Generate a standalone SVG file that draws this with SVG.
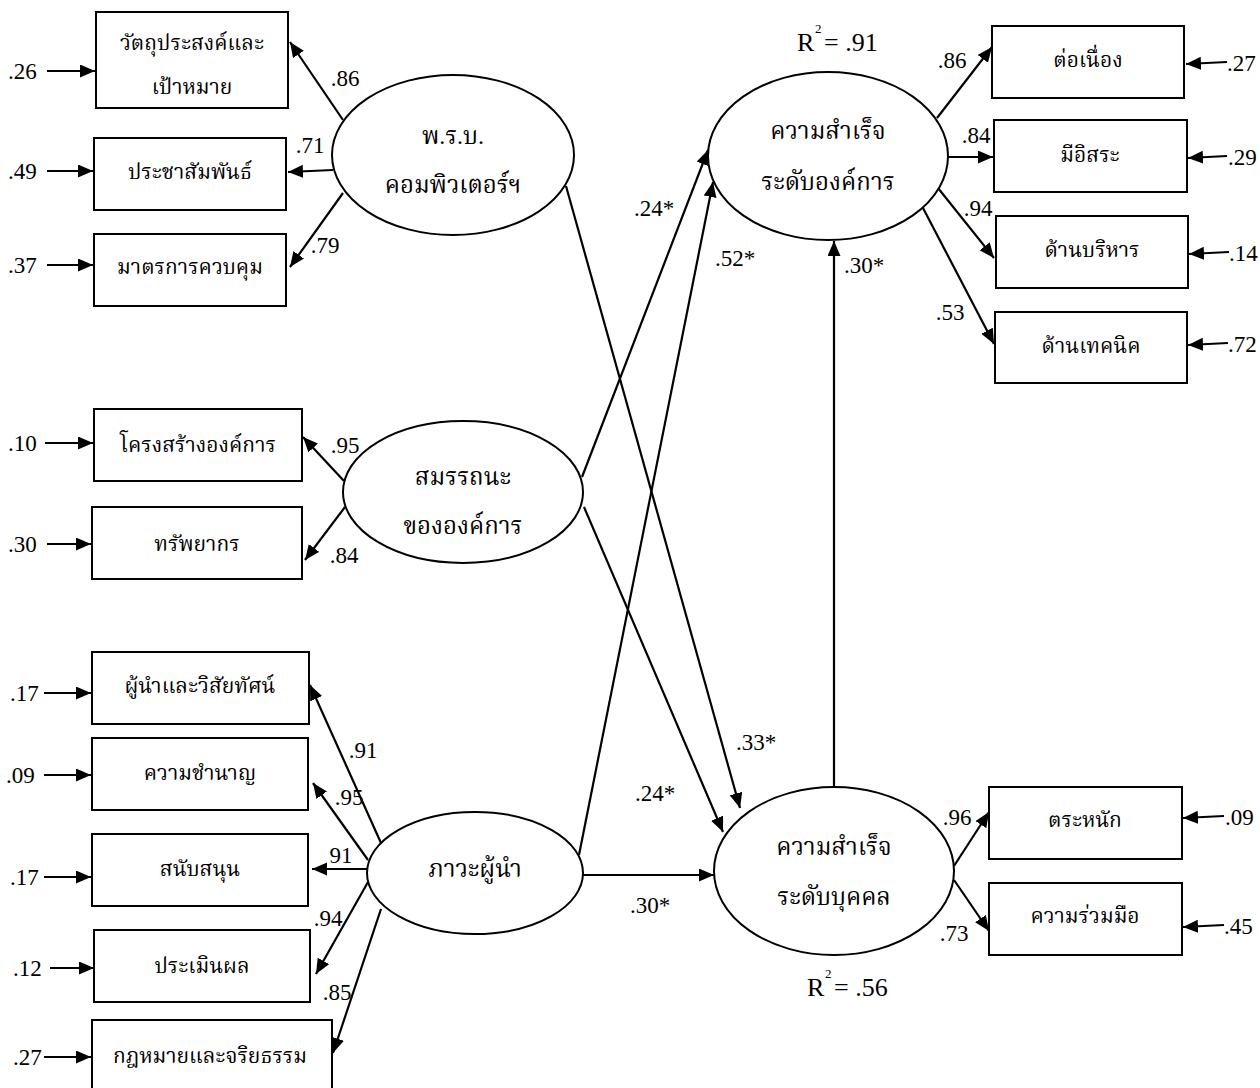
<svg xmlns="http://www.w3.org/2000/svg" width="1260" height="1088" viewBox="0 0 1260 1088">
<defs>
<marker id="ah" markerUnits="userSpaceOnUse" markerWidth="16" markerHeight="14" refX="15" refY="6.5" orient="auto">
<path d="M0,0 L15,6.5 L0,13 z" fill="#000"/>
</marker>
<style>
.box{fill:#fff;stroke:#000;stroke-width:2}
.ell{fill:#fff;stroke:#000;stroke-width:2}
.ln{stroke:#000;stroke-width:2.2;fill:none;marker-end:url(#ah)}
.t{font-family:"Liberation Serif","Noto Serif Thai","Noto Sans Thai",serif;font-size:21px;text-anchor:middle;fill:#000}
.tl{font-family:"Liberation Serif","Noto Serif Thai","Noto Sans Thai",serif;font-size:24px;text-anchor:middle;fill:#000}
.n{font-family:"Liberation Serif",serif;font-size:23px;fill:#000}
.nm{font-family:"Liberation Serif",serif;font-size:23px;fill:#000;text-anchor:middle}
</style>
</defs>
<rect width="1260" height="1088" fill="#fff"/>

<g id="connectors">
<line class="ln" x1="47" y1="71" x2="95" y2="71"/>
<line class="ln" x1="47" y1="171" x2="93" y2="171"/>
<line class="ln" x1="47" y1="265" x2="93" y2="265"/>
<line class="ln" x1="45" y1="443" x2="93" y2="443"/>
<line class="ln" x1="47" y1="544" x2="91" y2="544"/>
<line class="ln" x1="44" y1="693" x2="91" y2="693"/>
<line class="ln" x1="44" y1="775" x2="91" y2="775"/>
<line class="ln" x1="44" y1="877" x2="91" y2="877"/>
<line class="ln" x1="50" y1="968" x2="94" y2="968"/>
<line class="ln" x1="44" y1="1057" x2="91" y2="1057"/>
<line class="ln" x1="1227" y1="62" x2="1186" y2="64"/>
<line class="ln" x1="1227" y1="156" x2="1188" y2="158"/>
<line class="ln" x1="1229" y1="252" x2="1189" y2="254"/>
<line class="ln" x1="1228" y1="343" x2="1188" y2="345"/>
<line class="ln" x1="1224" y1="816" x2="1183" y2="818"/>
<line class="ln" x1="1224" y1="925" x2="1183" y2="927"/>
<line class="ln" x1="343" y1="120" x2="290" y2="42"/>
<line class="ln" x1="333" y1="170" x2="288" y2="172"/>
<line class="ln" x1="343" y1="193" x2="290" y2="267"/>
<line class="ln" x1="344" y1="481" x2="303" y2="437"/>
<line class="ln" x1="345" y1="507" x2="305" y2="560"/>
<line class="ln" x1="381" y1="843" x2="310" y2="685"/>
<line class="ln" x1="368" y1="860" x2="313" y2="783"/>
<line class="ln" x1="367" y1="869" x2="312" y2="869"/>
<line class="ln" x1="368" y1="882" x2="316" y2="974"/>
<line class="ln" x1="381" y1="909" x2="333" y2="1053"/>
<line class="ln" x1="937" y1="118" x2="992" y2="47"/>
<line class="ln" x1="948" y1="157" x2="993" y2="157"/>
<line class="ln" x1="938" y1="188" x2="994" y2="258"/>
<line class="ln" x1="923" y1="208" x2="994" y2="344"/>
<line class="ln" x1="954" y1="866" x2="989" y2="812"/>
<line class="ln" x1="954" y1="880" x2="989" y2="931"/>
<line class="ln" x1="566" y1="186" x2="740" y2="808"/>
<line class="ln" x1="584" y1="507" x2="723" y2="832"/>
<line class="ln" x1="582" y1="477" x2="708" y2="150"/>
<line class="ln" x1="579" y1="855" x2="713" y2="182"/>
<line class="ln" x1="583" y1="875" x2="714" y2="875"/>
<line class="ln" x1="834" y1="787" x2="834" y2="241"/>
</g>

<g id="box-objective"><rect class="box" x="96" y="12" width="192" height="96"/><text class="t" x="192" y="50">วัตถุประสงค์และ</text><text class="t" x="192" y="94">เป้าหมาย</text></g>
<g id="box-pr"><rect class="box" x="94" y="138" width="192" height="72"/><text class="t" x="190" y="179">ประชาสัมพันธ์</text></g>
<g id="box-control"><rect class="box" x="94" y="234" width="192" height="72"/><text class="t" x="190" y="274">มาตรการควบคุม</text></g>
<g id="box-structure"><rect class="box" x="94" y="409" width="208" height="72"/><text class="t" x="198" y="452">โครงสร้างองค์การ</text></g>
<g id="box-resource"><rect class="box" x="92" y="507" width="210" height="72"/><text class="t" x="197" y="551">ทรัพยากร</text></g>
<g id="box-vision"><rect class="box" x="92" y="652" width="217" height="72"/><text class="t" x="200" y="693">ผู้นำและวิสัยทัศน์</text></g>
<g id="box-expertise"><rect class="box" x="92" y="738" width="216" height="72"/><text class="t" x="200" y="780">ความชำนาญ</text></g>
<g id="box-support"><rect class="box" x="92" y="834" width="216" height="72"/><text class="t" x="200" y="876">สนับสนุน</text></g>
<g id="box-evaluate"><rect class="box" x="94" y="930" width="216" height="72"/><text class="t" x="202" y="973">ประเมินผล</text></g>
<g id="box-law"><rect class="box" x="92" y="1020" width="240" height="70"/><text class="t" x="210" y="1063">กฎหมายและจริยธรรม</text></g>

<g id="box-continuity"><rect class="box" x="992" y="26" width="192" height="72"/><text class="t" x="1088" y="67">ต่อเนื่อง</text></g>
<g id="box-independent"><rect class="box" x="994" y="120" width="193" height="72"/><text class="t" x="1090" y="162">มีอิสระ</text></g>
<g id="box-admin"><rect class="box" x="996" y="216" width="192" height="72"/><text class="t" x="1092" y="257">ด้านบริหาร</text></g>
<g id="box-tech"><rect class="box" x="995" y="312" width="192" height="71"/><text class="t" x="1091" y="353">ด้านเทคนิค</text></g>
<g id="box-aware"><rect class="box" x="989" y="787" width="193" height="72"/><text class="t" x="1085" y="827">ตระหนัก</text></g>
<g id="box-coop"><rect class="box" x="989" y="883" width="193" height="72"/><text class="t" x="1085" y="923">ความร่วมมือ</text></g>

<g id="eta-law"><ellipse class="ell" cx="453" cy="155" rx="121" ry="80"/><text class="tl" x="453" y="144">พ.ร.บ.</text><text class="tl" x="453" y="193">คอมพิวเตอร์ฯ</text></g>
<g id="eta-competency"><ellipse class="ell" cx="463" cy="492" rx="120" ry="71"/><text class="tl" x="463" y="485">สมรรถนะ</text><text class="tl" x="463" y="534">ขององค์การ</text></g>
<g id="eta-leadership"><ellipse class="ell" cx="475" cy="873" rx="108" ry="61"/><text class="tl" x="475" y="877">ภาวะผู้นำ</text></g>
<g id="eta-org"><ellipse class="ell" cx="828" cy="156" rx="120" ry="84"/><text class="tl" x="828" y="139">ความสำเร็จ</text><text class="tl" x="828" y="190">ระดับองค์การ</text></g>
<g id="eta-ind"><ellipse class="ell" cx="834" cy="871" rx="120" ry="84"/><text class="tl" x="834" y="855">ความสำเร็จ</text><text class="tl" x="834" y="905">ระดับบุคคล</text></g>

<g id="labels">
<text class="n" x="8" y="79">.26</text>
<text class="n" x="8" y="179">.49</text>
<text class="n" x="8" y="273">.37</text>
<text class="n" x="8" y="451">.10</text>
<text class="n" x="8" y="552">.30</text>
<text class="n" x="10" y="701">.17</text>
<text class="n" x="6" y="783">.09</text>
<text class="n" x="10" y="885">.17</text>
<text class="n" x="13" y="976">.12</text>
<text class="n" x="13" y="1065">.27</text>
<text class="n" x="1227" y="71">.27</text>
<text class="n" x="1228" y="165">.29</text>
<text class="n" x="1229" y="261">.14</text>
<text class="n" x="1228" y="352">.72</text>
<text class="n" x="1225" y="825">.09</text>
<text class="n" x="1224" y="934">.45</text>
<text class="nm" x="345" y="86">.86</text>
<text class="nm" x="310" y="153">.71</text>
<text class="nm" x="325" y="253">.79</text>
<text class="nm" x="345" y="453">.95</text>
<text class="nm" x="344" y="563">.84</text>
<text class="nm" x="363" y="758">.91</text>
<text class="nm" x="349" y="805">.95</text>
<text class="nm" x="341" y="863">91</text>
<text class="nm" x="328" y="926">.94</text>
<text class="nm" x="337" y="1000">.85</text>
<text class="nm" x="952" y="68">.86</text>
<text class="nm" x="976" y="143">.84</text>
<text class="nm" x="978" y="216">.94</text>
<text class="nm" x="950" y="320">.53</text>
<text class="nm" x="957" y="825">.96</text>
<text class="nm" x="954" y="941">.73</text>
<text class="nm" x="654" y="216">.24*</text>
<text class="nm" x="735" y="266">.52*</text>
<text class="nm" x="864" y="273">.30*</text>
<text class="nm" x="756" y="750">.33*</text>
<text class="nm" x="655" y="801">.24*</text>
<text class="nm" x="650" y="913">.30*</text>
<text class="n" x="797" y="51" style="font-size:26px">R</text><text class="n" x="815" y="33" style="font-size:13px">2</text><text class="n" x="824" y="51" style="font-size:26px">= .91</text>
<text class="n" x="807" y="996" style="font-size:26px">R</text><text class="n" x="825" y="978" style="font-size:13px">2</text><text class="n" x="834" y="996" style="font-size:26px">= .56</text>
</g>
</svg>
